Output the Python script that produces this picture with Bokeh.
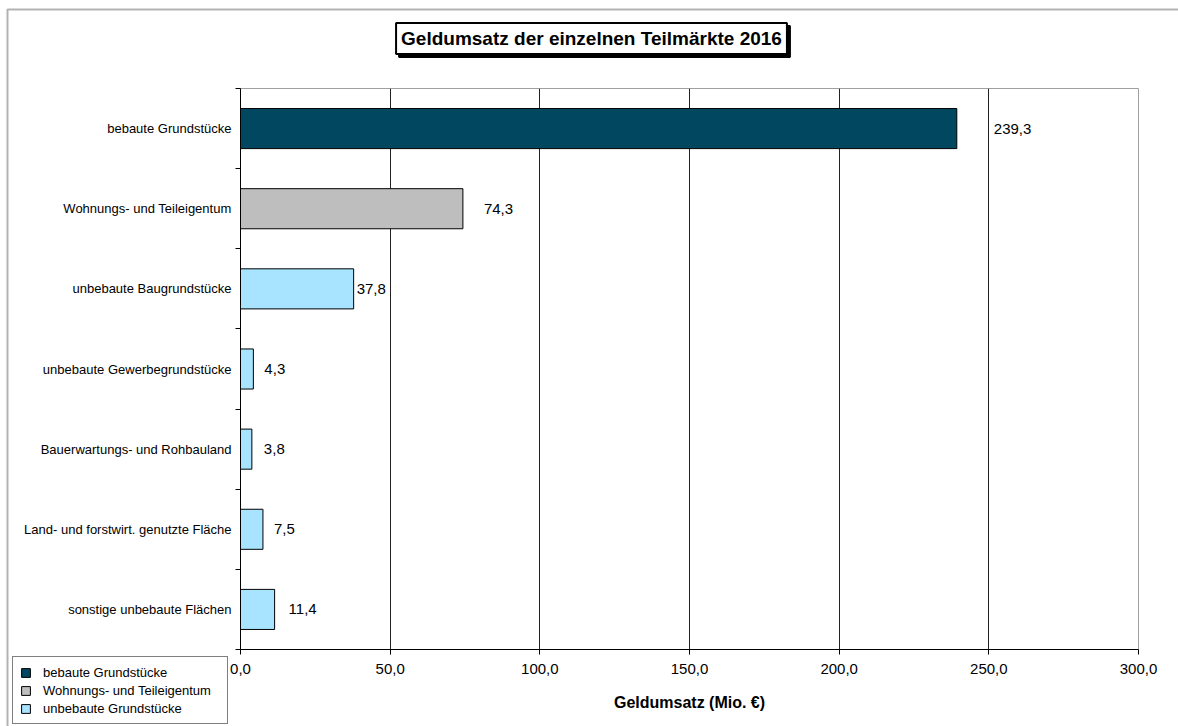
from bokeh.plotting import figure
from bokeh.models import (Range1d, FixedTicker, ColumnDataSource, Legend, LegendItem,
                          Label, BoxAnnotation)
from bokeh.core.properties import value
from bokeh.embed import file_html
from bokeh.resources import INLINE

# ---- data ----
title_text = "Geldumsatz der einzelnen Teilmärkte 2016"
x_label = "Geldumsatz (Mio. €)"
categories = [
    "bebaute Grundstücke",
    "Wohnungs- und Teileigentum",
    "unbebaute Baugrundstücke",
    "unbebaute Gewerbegrundstücke",
    "Bauerwartungs- und Rohbauland",
    "Land- und forstwirt. genutzte Fläche",
    "sonstige unbebaute Flächen",
]
values = [239.3, 74.3, 37.8, 4.3, 3.8, 7.5, 11.4]
groups = [
    "bebaute Grundstücke",
    "Wohnungs- und Teileigentum",
    "unbebaute Grundstücke",
    "unbebaute Grundstücke",
    "unbebaute Grundstücke",
    "unbebaute Grundstücke",
    "unbebaute Grundstücke",
]
group_names = ["bebaute Grundstücke", "Wohnungs- und Teileigentum", "unbebaute Grundstücke"]
x_ticks = [0, 50, 100, 150, 200, 250, 300]
x_tick_labels = ["0,0", "50,0", "100,0", "150,0", "200,0", "250,0", "300,0"]

# ---- styles ----
group_colors = ["#00475F", "#BEBEBE", "#A8E4FF"]
label_dx = [37, 21, 3, 11, 12, 11, 14]
FONT = "Liberation Sans"
W, H = 1178, 726

n = len(categories)
p = figure(width=W, height=H, output_backend="svg", toolbar_location=None,
           x_range=Range1d(0, 300), y_range=Range1d(n, 0),
           min_border_left=240, min_border_right=40, min_border_top=88, min_border_bottom=77)
p.background_fill_color = "white"
p.border_fill_color = "white"
p.outline_line_color = "#A0A0A0"
p.outline_line_width = 1

for g, col in zip(group_names, group_colors):
    idx = [i for i, gg in enumerate(groups) if gg == g]
    src = ColumnDataSource(dict(y=[i + 0.5 for i in idx], right=[values[i] for i in idx]))
    p.hbar(y="y", left=0, right="right", height=0.5, source=src,
           fill_color=col, line_color="black", line_width=1)

lab_src = ColumnDataSource(dict(
    x=values, y=[i + 0.5 for i in range(n)],
    t=[f"{v:.1f}".replace(".", ",") for v in values], dx=label_dx))
p.text(x="x", y="y", text="t", x_offset="dx", source=lab_src,
       text_font=value(FONT), text_font_size="15px", text_color="black",
       text_baseline="middle", text_align="left")

# x axis
xa = p.xaxis[0]
xa.ticker = FixedTicker(ticks=x_ticks)
xa.major_label_overrides = {t: l for t, l in zip(x_ticks, x_tick_labels)}
xa.major_label_text_font = FONT
xa.major_label_text_font_size = "15px"
xa.major_label_text_color = "black"
xa.major_tick_in = 0
xa.major_tick_out = 5
xa.minor_tick_line_color = None
xa.major_label_standoff = 9
xa.axis_line_color = "black"
xa.major_tick_line_color = "black"
xa.axis_label = x_label
xa.axis_label_text_font = FONT
xa.axis_label_text_font_style = "bold"
xa.axis_label_text_font_size = "16px"
xa.axis_label_text_color = "black"
xa.axis_label_standoff = 17

# y axis
ya = p.yaxis[0]
ya.ticker = FixedTicker(ticks=[i + 0.5 for i in range(n)], minor_ticks=list(range(n + 1)))
ya.major_label_overrides = {i + 0.5: c for i, c in enumerate(categories)}
ya.major_label_text_font = FONT
ya.major_label_text_font_size = "13px"
ya.major_label_text_color = "black"
ya.major_tick_in = 0
ya.major_tick_out = 0
ya.minor_tick_in = 0
ya.minor_tick_out = 5
ya.minor_tick_line_color = "black"
ya.major_label_standoff = 4
ya.axis_line_color = "black"

p.ygrid.visible = False
p.xgrid.ticker = FixedTicker(ticks=x_ticks[:-1])
p.xgrid.grid_line_color = "#222222"
p.xgrid.grid_line_width = 1

# ---- overlay figure (page coordinates) for frame border, title and legend ----
o = figure(width=W, height=H, output_backend="svg", toolbar_location=None,
           x_range=Range1d(0, W), y_range=Range1d(H, 0),
           x_axis_location=None, y_axis_location=None, min_border=0)
o.grid.visible = False
o.outline_line_color = None
o.background_fill_color = None
o.border_fill_color = None
o.styles = {"position": "absolute", "left": "0px", "top": "0px"}

o.add_layout(BoxAnnotation(left=7, right=W + 50, top=9, bottom=H + 50,
                           fill_alpha=0, line_color="black", line_width=2))

shadow = Label(x=591, y=38, x_offset=3, y_offset=-3, text=title_text,
               text_font=FONT, text_font_size="19px", text_font_style="bold",
               text_align="center", text_baseline="middle", text_color="black",
               background_fill_color="black", border_line_color="black", border_line_width=2,
               padding=5)
o.add_layout(shadow)
title = Label(x=591, y=38, text=title_text,
              text_font=FONT, text_font_size="19px", text_font_style="bold",
              text_align="center", text_baseline="middle", text_color="black",
              background_fill_color="white", border_line_color="black", border_line_width=2,
              padding=5)
o.add_layout(title)

# legend proxies: one non-drawn bar per group (NaN position), only used for the legend swatch
leg_renderers = []
for g, col in zip(group_names, group_colors):
    r = o.hbar(y=[float("nan")], left=[0], right=[0], height=1,
               fill_color=col, line_color="black", line_width=1)
    leg_renderers.append(r)

legend = Legend(items=[LegendItem(label=g, renderers=[r]) for g, r in zip(group_names, leg_renderers)],
                location=(12, 2), orientation="vertical")
legend.label_text_font = FONT
legend.label_text_font_size = "13px"
legend.label_text_color = "black"
legend.glyph_width = 11
legend.glyph_height = 11
legend.label_height = 16
legend.label_width = 177
legend.spacing = 2
legend.padding = 7
legend.margin = 0
legend.label_standoff = 12
legend.border_line_color = "black"
legend.border_line_width = 1
legend.background_fill_color = "white"
o.add_layout(legend, "center")

open("out.html", "w").write(file_html([p, o], INLINE))
